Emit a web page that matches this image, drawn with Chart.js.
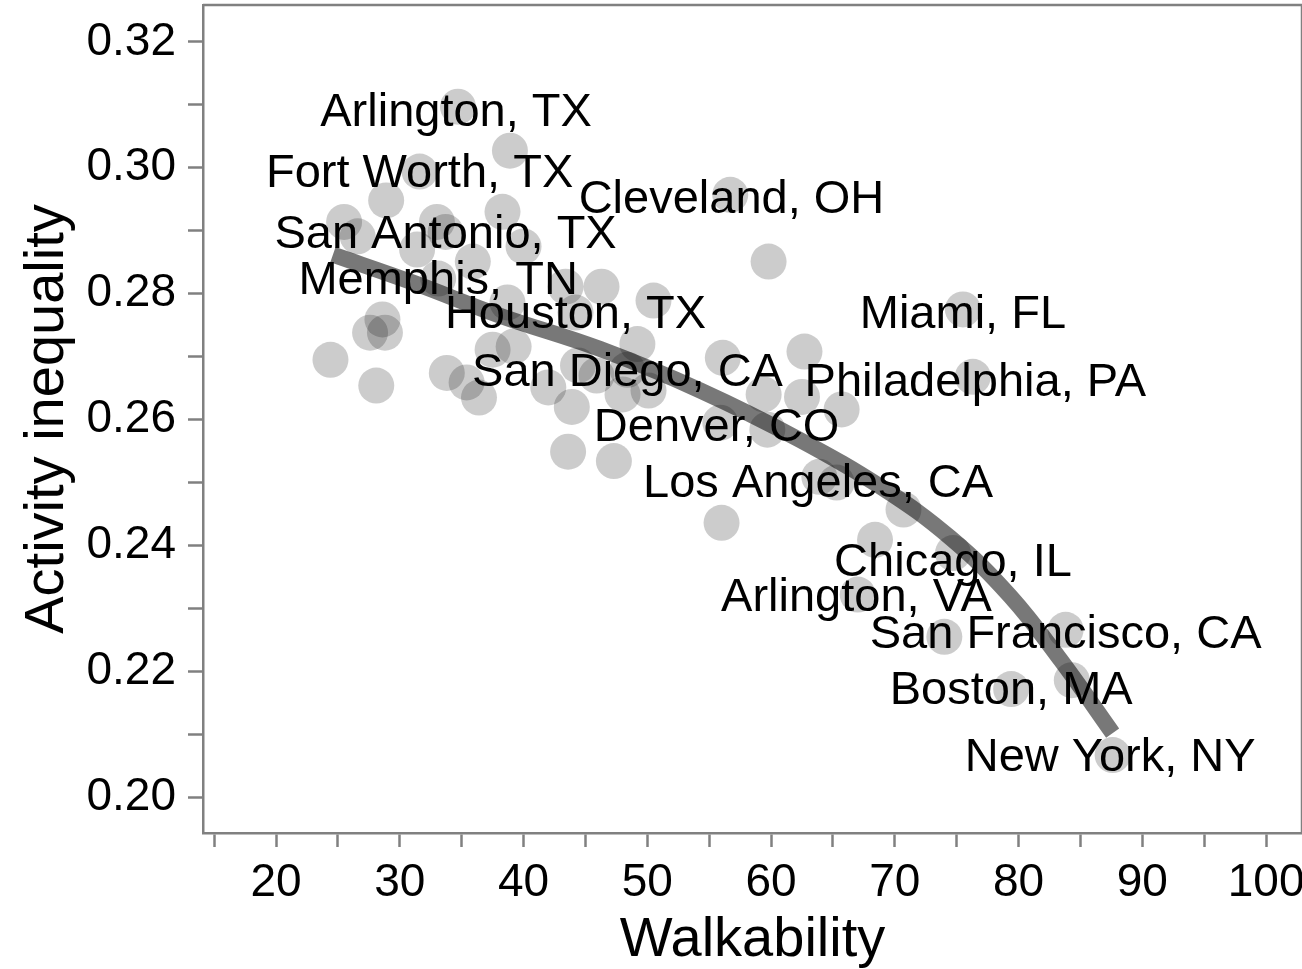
<!DOCTYPE html>
<html>
<head>
<meta charset="utf-8">
<script src="https://cdn.jsdelivr.net/npm/chart.js@4/dist/chart.umd.min.js"></script>
<style>
    body { margin: 0; background: #fff; }
    canvas { display: block; }
</style>
</head>
<body>
<canvas id="walkChart" width="1302" height="969"></canvas>
<script>
// City data (walkability score vs activity inequality)
const walkX = [34.7, 38.9, 31.6, 28.9, 25.5, 26.6, 33.0, 33.7, 31.4, 35.9,
    38.3, 40.0, 33.1, 38.7, 43.4, 46.3, 50.5, 44.2, 28.6, 27.6,
    28.8, 24.4, 28.1, 33.8, 35.4, 36.4, 37.5, 39.2, 42.0, 43.9,
    44.4, 45.9, 48.0, 49.2, 50.1, 48.4, 43.6, 47.3, 56.1, 59.8,
    56.7, 62.7, 75.5, 76.3, 59.4, 62.5, 65.7, 55.9, 59.7, 63.9,
    65.3, 70.7, 56.0, 68.4, 74.7, 67.0, 74.0, 83.8, 84.3, 79.4, 87.6];
const inequalityY = [0.3097, 0.3027, 0.2994, 0.2948, 0.2914, 0.2891, 0.2914, 0.2898, 0.2870, 0.2851,
    0.2930, 0.2875, 0.2824, 0.2786, 0.2811, 0.2811, 0.2789, 0.2770, 0.2759, 0.2738,
    0.2738, 0.2695, 0.2654, 0.2674, 0.2659, 0.2635, 0.2711, 0.2716, 0.2651, 0.2620,
    0.2686, 0.2670, 0.2640, 0.2720, 0.2646, 0.2679, 0.2549, 0.2534, 0.2698, 0.2851,
    0.2957, 0.2708, 0.2775, 0.2668, 0.2640, 0.2636, 0.2616, 0.2595, 0.2584, 0.2509,
    0.2500, 0.2457, 0.2436, 0.2409, 0.2388, 0.2322, 0.2255, 0.2266, 0.2186, 0.2172, 0.2067];

// Fitted trend
const trendX = [24.6, 31.0, 38.1, 46.2, 54.3, 62.3, 69.1, 74.5, 79.3, 83.4, 87.6];
const trendY = [0.2862, 0.2818, 0.2765, 0.2712, 0.2646, 0.2568, 0.2490, 0.2412, 0.2320, 0.2218, 0.2102];

// Labelled cities
const cityNames = ['Arlington, TX', 'Fort Worth, TX', 'Cleveland, OH', 'San Antonio, TX', 'Memphis, TN',
    'Houston, TX', 'Miami, FL', 'San Diego, CA', 'Philadelphia, PA', 'Denver, CO',
    'Los Angeles, CA', 'Chicago, IL', 'Arlington, VA', 'San Francisco, CA', 'Boston, MA', 'New York, NY'];
const cityX = [34.55, 31.6, 56.8, 33.7, 33.1, 44.2, 75.5, 48.4, 76.5, 55.6, 63.8, 74.7, 66.9, 83.8, 79.4, 87.4];
const cityY = [0.3092, 0.2994, 0.2954, 0.2898, 0.2824, 0.2770, 0.2770, 0.2679, 0.2663, 0.2592,
    0.2503, 0.2377, 0.2321, 0.2263, 0.2174, 0.2067];

// Axis ticks
const xTicks = [15, 20, 25, 30, 35, 40, 45, 50, 55, 60, 65, 70, 75, 80, 85, 90, 95, 100];
const yTicks = [0.20, 0.21, 0.22, 0.23, 0.24, 0.25, 0.26, 0.27, 0.28, 0.29, 0.30, 0.31, 0.32];

const axisGray = '#808080';
const fontFamily = '"Liberation Sans", Arial, Helvetica, sans-serif';

// Draw city names on top of the points
const cityLabels = {
    id: 'cityLabels',
    afterDatasetsDraw(chart) {
        const { ctx, scales } = chart;
        ctx.save();
        ctx.font = '47px ' + fontFamily;
        ctx.fillStyle = '#000';
        ctx.textAlign = 'center';
        ctx.textBaseline = 'middle';
        cityNames.forEach((name, i) => {
            // small nudge so the cap height sits centred on the point
            ctx.fillText(name, scales.x.getPixelForValue(cityX[i]), scales.y.getPixelForValue(cityY[i]) + 3);
        });
        ctx.restore();
    }
};

// Panel frame on the top and right edge
const panelFrame = {
    id: 'panelFrame',
    afterDraw(chart) {
        const { ctx, chartArea } = chart;
        ctx.save();
        ctx.strokeStyle = axisGray;
        ctx.lineWidth = 2.5;
        ctx.beginPath();
        ctx.moveTo(chartArea.left, chartArea.top);
        ctx.lineTo(chartArea.right, chartArea.top);
        ctx.lineTo(chartArea.right, chartArea.bottom);
        ctx.stroke();
        ctx.restore();
    }
};

const ctx = document.getElementById('walkChart').getContext('2d');
new Chart(ctx, {
    type: 'scatter',
    data: {
        datasets: [{
            data: walkX.map((x, i) => ({ x: x, y: inequalityY[i] })),
            backgroundColor: 'rgba(0,0,0,0.2)',
            borderWidth: 0,
            pointRadius: 18,
            pointHoverRadius: 18,
            order: 2
        }, {
            type: 'line',
            data: trendX.map((x, i) => ({ x: x, y: trendY[i] })),
            borderColor: 'rgba(0,0,0,0.53)',
            borderWidth: 16,
            borderCapStyle: 'butt',
            tension: 0.4,
            pointRadius: 0,
            fill: false,
            order: 1
        }]
    },
    options: {
        responsive: false,
        animation: false,
        layout: { autoPadding: false, padding: { top: 5, left: 0, right: 0, bottom: 0 } },
        plugins: {
            legend: { display: false },
            tooltip: { enabled: false }
        },
        scales: {
            x: {
                type: 'linear',
                min: 14.1,
                max: 102.9,
                afterBuildTicks: (scale) => { scale.ticks = xTicks.map(v => ({ value: v })); },
                afterFit: (scale) => {
                    scale.height = 136;
                    scale.paddingLeft = 0;
                    scale.paddingRight = 0;
                },
                border: { display: true, color: axisGray, width: 2.5 },
                grid: { drawOnChartArea: false, drawTicks: true, tickLength: 14, tickWidth: 2.5, tickColor: axisGray },
                ticks: {
                    autoSkip: false,
                    maxRotation: 0,
                    padding: 9,
                    color: '#000',
                    font: { family: fontFamily, size: 46 },
                    callback: (v) => (v % 10 === 0 ? String(v) : '')
                },
                title: {
                    display: true,
                    text: 'Walkability',
                    color: '#000',
                    font: { family: fontFamily, size: 56, lineHeight: 1 },
                    padding: { top: 0, bottom: 0 }
                }
            },
            y: {
                type: 'linear',
                min: 0.19433,
                max: 0.32585,
                afterBuildTicks: (scale) => { scale.ticks = yTicks.map(v => ({ value: v })); },
                afterFit: (scale) => {
                    scale.width = 203;
                    scale.paddingTop = 0;
                    scale.paddingBottom = 0;
                },
                border: { display: true, color: axisGray, width: 2.5 },
                grid: { drawOnChartArea: false, drawTicks: true, tickLength: 15, tickWidth: 2.5, tickColor: axisGray },
                ticks: {
                    autoSkip: false,
                    padding: 12,
                    color: '#000',
                    font: { family: fontFamily, size: 46 },
                    callback: (v) => (Math.round(v * 100) % 2 === 0 ? v.toFixed(2) : '')
                },
                title: {
                    display: true,
                    text: 'Activity inequality',
                    color: '#000',
                    font: { family: fontFamily, size: 56, lineHeight: 1 },
                    padding: { top: 20, bottom: 0 }
                }
            }
        }
    },
    plugins: [cityLabels, panelFrame]
});
</script>
</body>
</html>
